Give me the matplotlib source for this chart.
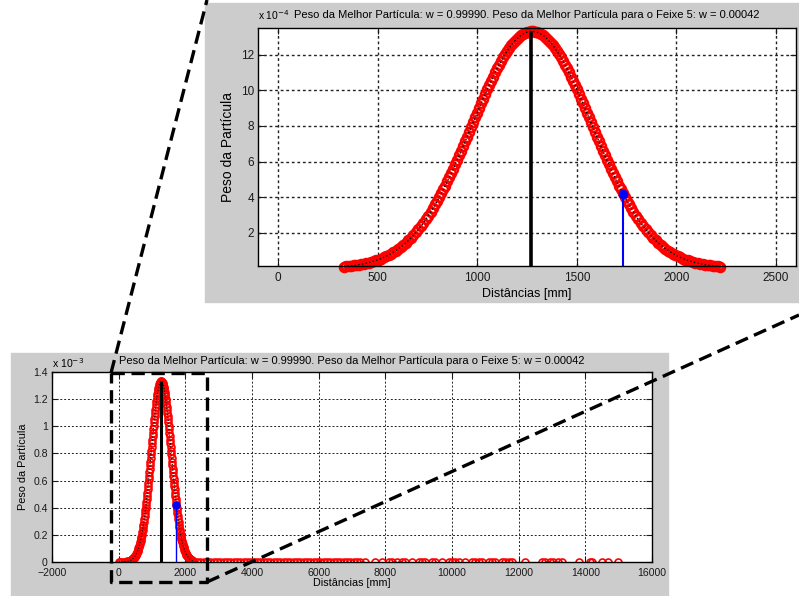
import numpy as np
import matplotlib
matplotlib.use('Agg')
import matplotlib.pyplot as plt
from matplotlib import font_manager
from matplotlib.lines import Line2D
from matplotlib.patches import Rectangle
from matplotlib.ticker import FuncFormatter

# particles along the bell: distance [mm] and weight (x 1e-4)
body_dist = [0, 50, 100, 150, 200, 250, 300,
             330, 342, 355, 367, 380, 392, 405, 417, 430, 442, 455, 467, 480, 492,
             505, 517, 530, 542, 555, 567, 580, 592, 605, 617, 630, 642, 655, 667,
             680, 692, 705, 717, 730, 742, 755, 767, 780, 790, 800,
             810, 820, 830, 840, 850, 860, 870, 880, 890, 900, 910, 920, 930, 940,
             950, 960, 970, 980, 990, 1000, 1010, 1020, 1030, 1040, 1050, 1060, 1070,
             1080, 1090, 1100, 1110, 1120, 1130, 1140, 1150,
             1160, 1170, 1180, 1190, 1200, 1210, 1220, 1230, 1240, 1250, 1260, 1270,
             1280, 1290, 1300, 1310, 1320, 1330, 1340, 1350, 1360, 1370, 1380, 1390,
             1400, 1410, 1420, 1430, 1440, 1450, 1460, 1470, 1480, 1490, 1500, 1510,
             1520, 1530, 1540, 1550, 1560, 1570, 1580, 1590, 1600, 1610, 1620, 1630,
             1640, 1650, 1660, 1670, 1680, 1690, 1700, 1710, 1720, 1730, 1740, 1750,
             1760, 1770, 1783, 1795, 1808, 1820, 1833, 1845, 1858, 1870, 1883, 1895,
             1908, 1920, 1933, 1945, 1958, 1970, 1983, 1995, 2008, 2020, 2033, 2045,
             2058, 2070, 2083, 2095, 2108, 2120, 2133, 2145, 2158, 2170, 2183, 2195,
             2208, 2220]
body_w = [0.002, 0.004, 0.008, 0.014, 0.024, 0.040, 0.065,
          0.09, 0.106, 0.12, 0.136, 0.16, 0.175, 0.20, 0.223, 0.25, 0.282, 0.32, 0.354, 0.40, 0.442,
          0.49, 0.547, 0.61, 0.673, 0.75, 0.822, 0.91, 0.997, 1.10, 1.201, 1.32, 1.437, 1.57, 1.707,
          1.86, 2.014, 2.19, 2.360, 2.56, 2.746, 2.96, 3.173, 3.41, 3.603, 3.80,
          4.004, 4.214, 4.430, 4.652, 4.879, 5.113, 5.351, 5.594, 5.842, 6.094, 6.349, 6.609, 6.871, 7.135,
          7.401, 7.669, 7.938, 8.207, 8.476, 8.744, 9.010, 9.274, 9.536, 9.793, 10.047, 10.296, 10.539,
          10.775, 11.005, 11.228, 11.442, 11.647, 11.843, 12.028, 12.203,
          12.367, 12.519, 12.659, 12.786, 12.900, 13.001, 13.088, 13.161, 13.220, 13.264, 13.293, 13.308,
          13.308, 13.293, 13.264, 13.220, 13.161, 13.088, 13.001, 12.900, 12.786, 12.659, 12.519, 12.367,
          12.203, 12.028, 11.843, 11.647, 11.442, 11.228, 11.005, 10.775, 10.539, 10.296, 10.047, 9.793,
          9.536, 9.274, 9.010, 8.744, 8.476, 8.207, 7.938, 7.669, 7.401, 7.135, 6.871, 6.609,
          6.349, 6.094, 5.842, 5.594, 5.351, 5.113, 4.879, 4.652, 4.430, 4.214, 4.004, 3.800,
          3.603, 3.41, 3.173, 2.96, 2.746, 2.56, 2.360, 2.19, 2.014, 1.86, 1.707, 1.57,
          1.437, 1.32, 1.201, 1.10, 0.997, 0.91, 0.822, 0.75, 0.673, 0.61, 0.547, 0.49,
          0.442, 0.40, 0.354, 0.32, 0.282, 0.25, 0.223, 0.20, 0.175, 0.16, 0.136, 0.12,
          0.106, 0.09]

# far particles with practically zero weight
tail_dist = [2250, 2350, 2450, 2550, 2650, 2750, 2850, 2950, 3050, 3150,
             3250, 3350, 3450, 3550, 3650, 3750, 3850, 3950, 4050, 4150,
             4250, 4350, 4450, 4550, 4650, 4750, 4850, 4950, 5050, 5150,
             5250, 5350, 5450, 5550, 5650, 5750, 5850, 5950, 6050, 6150,
             6250, 6350, 6450, 6550, 6650, 6750, 6850, 6950, 7050, 7150,
             7250, 7400, 7700, 7900, 8100, 8200, 8350, 8500, 8600, 8800,
             9000, 9100, 9200, 9400, 9500, 9700, 9900, 10000, 10100, 10200,
             10400, 10600, 10700, 10800, 10900, 11100, 11200, 11300, 11500, 11600,
             11700, 11800, 12200, 12700, 12800, 12950, 13030, 13180, 13300, 13810,
             14140, 14200, 14490, 14680, 14980]
tail_w = [0.0] * len(tail_dist)

best_dist, best_w = 1270, 13.31     # x 1e-4
beam5_dist, beam5_w = 1730, 4.2     # x 1e-4

title = 'Peso da Melhor Partícula: w = 0.99990. Peso da Melhor Partícula para o Feixe 5: w = 0.00042'

dist = np.array(body_dist + tail_dist, dtype=float)
w = np.array(body_w + tail_w) * 1e-4
order = np.argsort(dist, kind='stable')
dist, w = dist[order], w[order]

names = {f.name for f in font_manager.fontManager.ttflist}
font = 'Liberation Sans' if 'Liberation Sans' in names else 'DejaVu Sans'
plt.rcParams['font.family'] = [font, 'DejaVu Sans']

W, H = 799, 596
fig = plt.figure(figsize=(W / 100, H / 100), dpi=100)


def fx(x):
    return x / W


def fy(y):
    return 1 - y / H


def gray_box(x0, y0, x1, y1):
    fig.add_artist(Rectangle((fx(x0), fy(y1)), fx(x1) - fx(x0), fy(y0) - fy(y1),
                             transform=fig.transFigure, color='#cccccc', zorder=-5))


gray_box(205, 3, 799, 302)
gray_box(11, 353, 668, 596)


def style(ax, size, gridw, xpad):
    ax.grid(True, color='#222222', linestyle=(0, (2, 2)), linewidth=gridw)
    ax.tick_params(direction='in', top=True, right=True, length=4, width=0.8,
                   labelsize=size, pad=3, colors='#1a1a1a')
    ax.tick_params(axis='x', pad=xpad)
    for s in ax.spines.values():
        s.set_linewidth(1.0)


# ---- zoomed view (top) ----
ax1 = fig.add_axes([fx(258), fy(266), fx(796) - fx(258), fy(28) - fy(266)])
keep = w >= 0.085e-4
ax1.plot(dist[keep], w[keep], 'o', mfc='none', mec='red', ms=6.5, mew=1.8, clip_on=False)
ax1.plot(dist[keep], w[keep], ':', color='black', lw=1.0)
ax1.vlines(best_dist, 0, best_w * 1e-4, color='black', lw=2.6, zorder=5)
ax1.vlines(beam5_dist, 0, beam5_w * 1e-4, color='blue', lw=1.5, zorder=5)
ax1.plot([beam5_dist], [beam5_w * 1e-4], 'o', color='blue', ms=6, zorder=6)
ax1.set_xlim(-100, 2600)
ax1.set_ylim(0.13e-4, 13.5e-4)
ax1.set_xticks(range(0, 2501, 500))
ax1.set_yticks(np.arange(2, 13, 2) * 1e-4)
ax1.yaxis.set_major_formatter(FuncFormatter(lambda v, p: f'{v * 1e4:g}'))
style(ax1, 8.5, 1.0, 4)
ax1.set_title(title, fontsize=8.0, pad=7)
ax1.text(0, 1.025, r'x 10$^{-4}$', transform=ax1.transAxes, ha='left', va='bottom',
         fontsize=7.4)
ax1.set_xlabel('Distâncias [mm]', fontsize=9, labelpad=3)
ax1.set_ylabel('Peso da Partícula', fontsize=10, labelpad=4)

# ---- full view (bottom) ----
ax2 = fig.add_axes([fx(52), fy(562), fx(652) - fx(52), fy(372) - fy(562)])
ax2.plot(dist, w, 'o', mfc='none', mec='red', ms=5, mew=1.2)
ax2.plot(dist[w > 0], w[w > 0], ':', color='black', lw=0.8)
ax2.vlines(best_dist, 0, best_w * 1e-4, color='black', lw=2.2, zorder=5)
ax2.vlines(beam5_dist, 0, beam5_w * 1e-4, color='blue', lw=1.0, zorder=5)
ax2.plot([beam5_dist], [beam5_w * 1e-4], 'o', color='blue', ms=5, zorder=6)
ax2.set_xlim(-2000, 16000)
ax2.set_ylim(0, 1.4e-3)
ax2.set_xticks(range(-2000, 16001, 2000))
ax2.set_yticks(np.arange(0, 1.41, 0.2) * 1e-3)
ax2.yaxis.set_major_formatter(FuncFormatter(lambda v, p: f'{v * 1e3:.1f}'.rstrip('0').rstrip('.')))
style(ax2, 7.6, 0.7, 4.5)
ax2.set_title(title, fontsize=8.0, pad=6)
ax2.text(0, 1.01, r'x 10$^{-3}$', transform=ax2.transAxes, ha='left', va='bottom',
         fontsize=7.6)
ax2.set_xlabel('Distâncias [mm]', fontsize=7.8, labelpad=0)
ax2.set_ylabel('Peso da Partícula', fontsize=7.8, labelpad=4)

# ---- zoom marker: dashed box and connecting lines ----
dash = dict(color='black', lw=2.4, linestyle=(0, (4, 2)), transform=fig.transFigure, zorder=20)
bx0, by0, bx1, by1 = 111, 373, 207, 582
fig.add_artist(Line2D([fx(bx0), fx(bx1), fx(bx1), fx(bx0), fx(bx0)],
                      [fy(by0), fy(by0), fy(by1), fy(by1), fy(by0)], **dash))
fig.add_artist(Line2D([fx(bx0), fx(207)], [fy(by0), fy(0)], **dash))
fig.add_artist(Line2D([fx(bx1), fx(799)], [fy(by1), fy(315)], **dash))

fig.savefig('out.png', dpi=100)
